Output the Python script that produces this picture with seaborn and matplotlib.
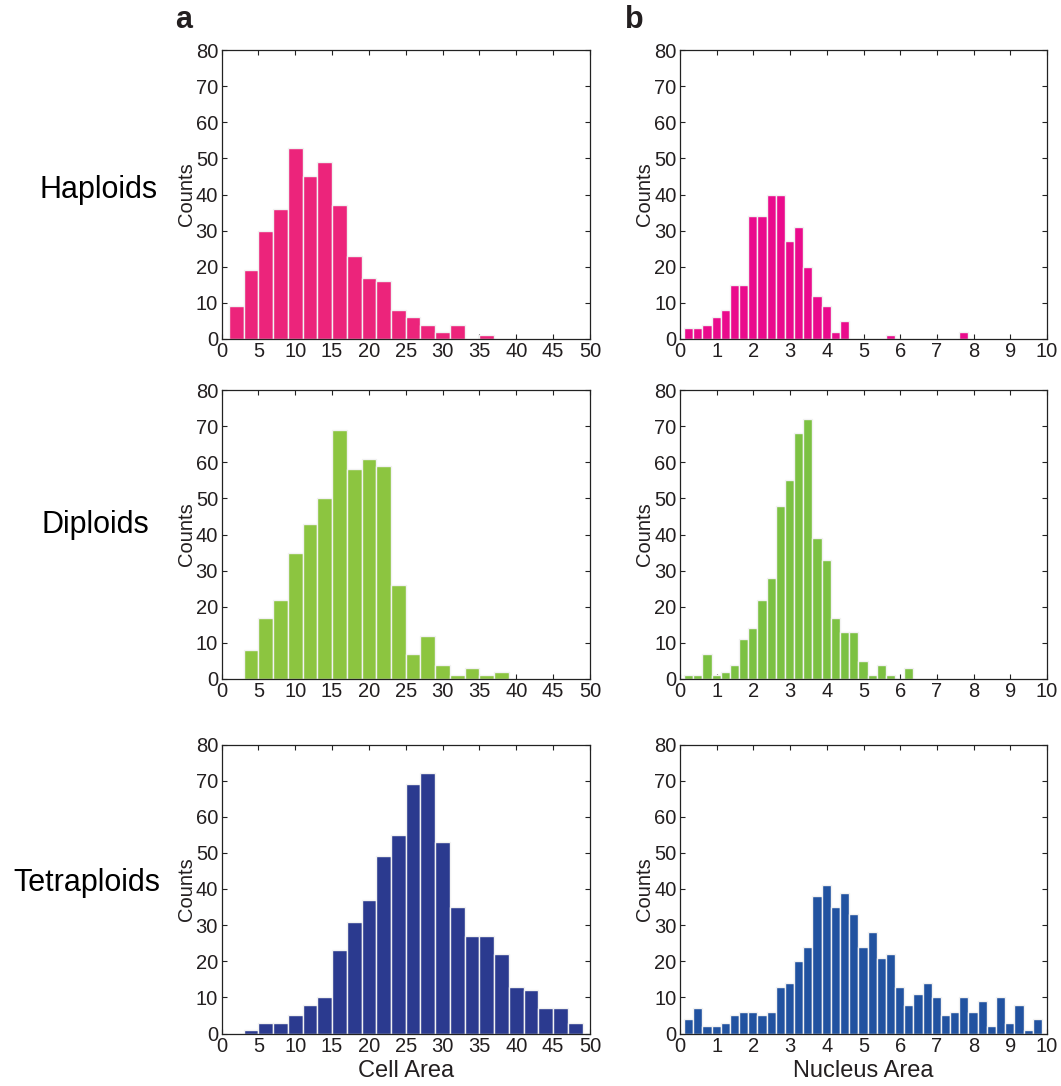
import numpy as np
import pandas as pd
import matplotlib
matplotlib.use("Agg")
import matplotlib.pyplot as plt
import seaborn as sns

sns.set_style("ticks")
plt.rcParams['font.family'] = ['Liberation Sans', 'DejaVu Sans']

# ---------------- data ----------------
row_labels = ["Haploids", "Diploids", "Tetraploids"]
col_letters = ["a", "b"]
x_labels = ["Cell Area", "Nucleus Area"]

# Cell area histograms (bin width 2)
hap_cell_start, hap_cell_width = 1.0, 2.0
hap_cell_counts = [9, 19, 30, 36, 53, 45, 49, 37, 23, 17, 16, 8, 6, 4, 2, 4, 0, 1]

dip_cell_start, dip_cell_width = 3.0, 2.0
dip_cell_counts = [8, 17, 22, 35, 43, 50, 69, 58, 61, 59, 26, 7, 12, 4, 1, 3, 1, 2]

tet_cell_start, tet_cell_width = 1.0, 2.0
tet_cell_counts = [0, 1, 3, 3, 5, 8, 10, 23, 31, 37, 49, 55, 69, 72, 53, 35, 27, 27,
                   22, 13, 12, 7, 7, 3]

# Nucleus area histograms (bin width 0.25)
hap_nuc_start, hap_nuc_width = 0.11, 0.25
hap_nuc_counts = [3, 3, 4, 6, 8, 15, 15, 34, 34, 40, 40, 27, 31, 20, 12, 9, 2, 5,
                  0, 0, 0, 0, 1, 0, 0, 0, 0, 0, 0, 0, 2]

dip_nuc_start, dip_nuc_width = 0.11, 0.25
dip_nuc_counts = [1, 1, 7, 1, 2, 4, 11, 14, 22, 28, 48, 55, 68, 72, 39, 33, 17, 13,
                  13, 5, 1, 4, 1, 0, 3]

tet_nuc_start, tet_nuc_width = 0.11, 0.25
tet_nuc_counts = [4, 7, 2, 2, 3, 5, 6, 6, 5, 6, 13, 14, 20, 24, 38, 41, 35, 39, 33,
                  24, 28, 21, 22, 13, 8, 11, 14, 10, 5, 6, 10, 6, 9, 2, 10, 3, 8, 1, 4]

panels = [
    [(hap_cell_start, hap_cell_width, hap_cell_counts, "#EC247B"),
     (hap_nuc_start, hap_nuc_width, hap_nuc_counts, "#EA0B8C")],
    [(dip_cell_start, dip_cell_width, dip_cell_counts, "#8CC540"),
     (dip_nuc_start, dip_nuc_width, dip_nuc_counts, "#7CC142")],
    [(tet_cell_start, tet_cell_width, tet_cell_counts, "#2B3A8F"),
     (tet_nuc_start, tet_nuc_width, tet_nuc_counts, "#2152A0")],
]
x_limits = [(0, 50), (0, 10)]
x_ticks = [list(range(0, 51, 5)), list(range(0, 11, 1))]
y_ticks = list(range(0, 81, 10))

# ---------------- figure ----------------
W, H = 1061, 1086
fig = plt.figure(figsize=(W / 100, H / 100), dpi=100)

col_left = [221.5, 680.0]
col_width = [368.5, 367.0]
row_bottom = [339.0, 679.0, 1033.5]
ax_h = 289.0

text_color = "#231F20"

for r in range(3):
    for c in range(2):
        left = col_left[c] / W
        bottom = 1 - row_bottom[r] / H
        ax = fig.add_axes([left, bottom, col_width[c] / W, ax_h / H])
        start, width, counts, color = panels[r][c]
        n = len(counts)
        edges = [start + width * i for i in range(n + 1)]
        centers = [(edges[i] + edges[i + 1]) / 2 for i in range(n)]
        df = pd.DataFrame({"x": centers, "w": [float(v) for v in counts]})
        sns.histplot(data=df, x="x", weights="w", bins=edges, color=color,
                     alpha=1, edgecolor="#F2F2F2", linewidth=1.0, ax=ax)
        ax.set_xlim(*x_limits[c])
        ax.set_ylim(0, 80)
        ax.set_xticks(x_ticks[c])
        ax.set_yticks(y_ticks)
        ax.tick_params(direction="in", length=3.5, width=0.8, top=True, right=True,
                       labelsize=14.5, pad=2.5, colors="#222222", labelcolor=text_color)
        for sp in ax.spines.values():
            sp.set_visible(True)
            sp.set_linewidth(0.9)
            sp.set_color("#222222")
        ax.set_ylabel("Counts", fontsize=14.5, labelpad=0, color=text_color)
        if r == 2:
            ax.set_xlabel(x_labels[c], fontsize=17, labelpad=3, color=text_color)
        else:
            ax.set_xlabel("")

# Row labels
row_text_pos = [(40, 190), (42, 525), (13, 883)]
for lbl, (px, py) in zip(row_labels, row_text_pos):
    fig.text(px / W, 1 - py / H, lbl, fontsize=22, ha="left", va="center",
             color="black")

# Column letters
letter_pos = [(175, 20), (625, 20)]
for lbl, (px, py) in zip(col_letters, letter_pos):
    fig.text(px / W, 1 - py / H, lbl, fontsize=22, fontweight="bold",
             ha="left", va="center", color=text_color)

fig.savefig("out.png", dpi=100)
